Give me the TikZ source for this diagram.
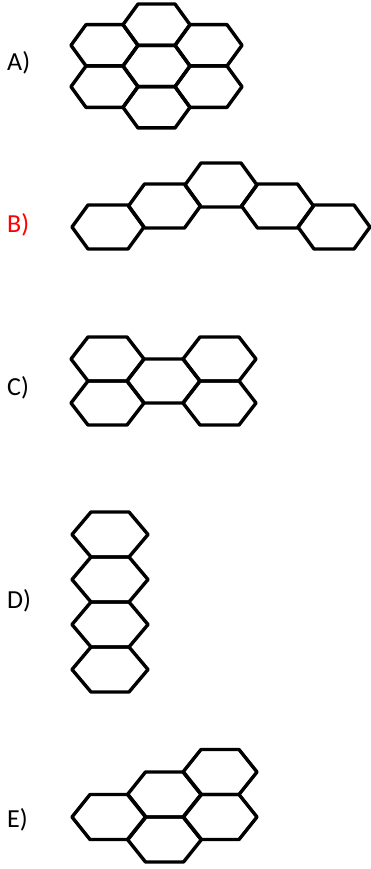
\documentclass[tikz,border=0pt]{standalone}
\usepackage{fontspec}
\setmainfont{Carlito}
\usepackage{tikz}
\usetikzlibrary{positioning,calc}

% one squashed hexagon: left corner x, centre y, width, height, slant
\newcommand{\hexcell}[5]{%
	\draw[hexline] (#1,#2) -- ({#1+#5},{#2-#4/2}) -- ({#1+#3-#5},{#2-#4/2}) -- ({#1+#3},#2)
		-- ({#1+#3-#5},{#2+#4/2}) -- ({#1+#5},{#2+#4/2}) -- cycle;}

\tikzset{
	hexline/.style={draw=black, line width=3.4pt, line join=round},
	choice/.style={inner sep=0pt, anchor=base west, font=\fontsize{26}{30}\selectfont},
}

\begin{document}
\begin{tikzpicture}[x=1pt, y=-1pt]
		\useasboundingbox (0,0) rectangle (371,869);
		
		\node[choice] (labA) at (7,71) {A)};
		\node[choice, text=red] (labB) at (7,232) {B)};
		\node[choice] (labC) at (7,395) {C)};
		\node[choice] (labD) at (7,608) {D)};
		\node[choice] (labE) at (7,827) {E)};
		
		% A
		\hexcell{71}{45.3}{67}{41.3}{15}
		\hexcell{71}{86.7}{67}{41.3}{15}
		\hexcell{123}{24.7}{67}{41.3}{15}
		\hexcell{123}{66}{67}{41.3}{15}
		\hexcell{123}{107.3}{67}{41.3}{15}
		\hexcell{175}{45.3}{67}{41.3}{15}
		\hexcell{175}{86.7}{67}{41.3}{15}
		
		% B
		\hexcell{72}{227}{72}{44}{16}
		\hexcell{128.5}{206}{72}{44}{16}
		\hexcell{185}{185}{72}{44}{16}
		\hexcell{241.5}{206}{72}{44}{16}
		\hexcell{298}{227}{72}{44}{16}
		
		% C
		\hexcell{71}{359}{73}{44}{17}
		\hexcell{71}{403}{73}{44}{17}
		\hexcell{127}{381}{73}{44}{17}
		\hexcell{183}{359}{73}{44}{17}
		\hexcell{183}{403}{73}{44}{17}
		
		% D
		\hexcell{72}{534.5}{76}{45}{19}
		\hexcell{72}{579.5}{76}{45}{19}
		\hexcell{72}{624.5}{76}{45}{19}
		\hexcell{72}{669.5}{76}{45}{19}
		
		% E
		\hexcell{72}{817}{74}{45}{18}
		\hexcell{127.5}{794.5}{74}{45}{18}
		\hexcell{127.5}{839.5}{74}{45}{18}
		\hexcell{183}{772}{74}{45}{18}
		\hexcell{183}{817}{74}{45}{18}
	\end{tikzpicture}
\end{document}
